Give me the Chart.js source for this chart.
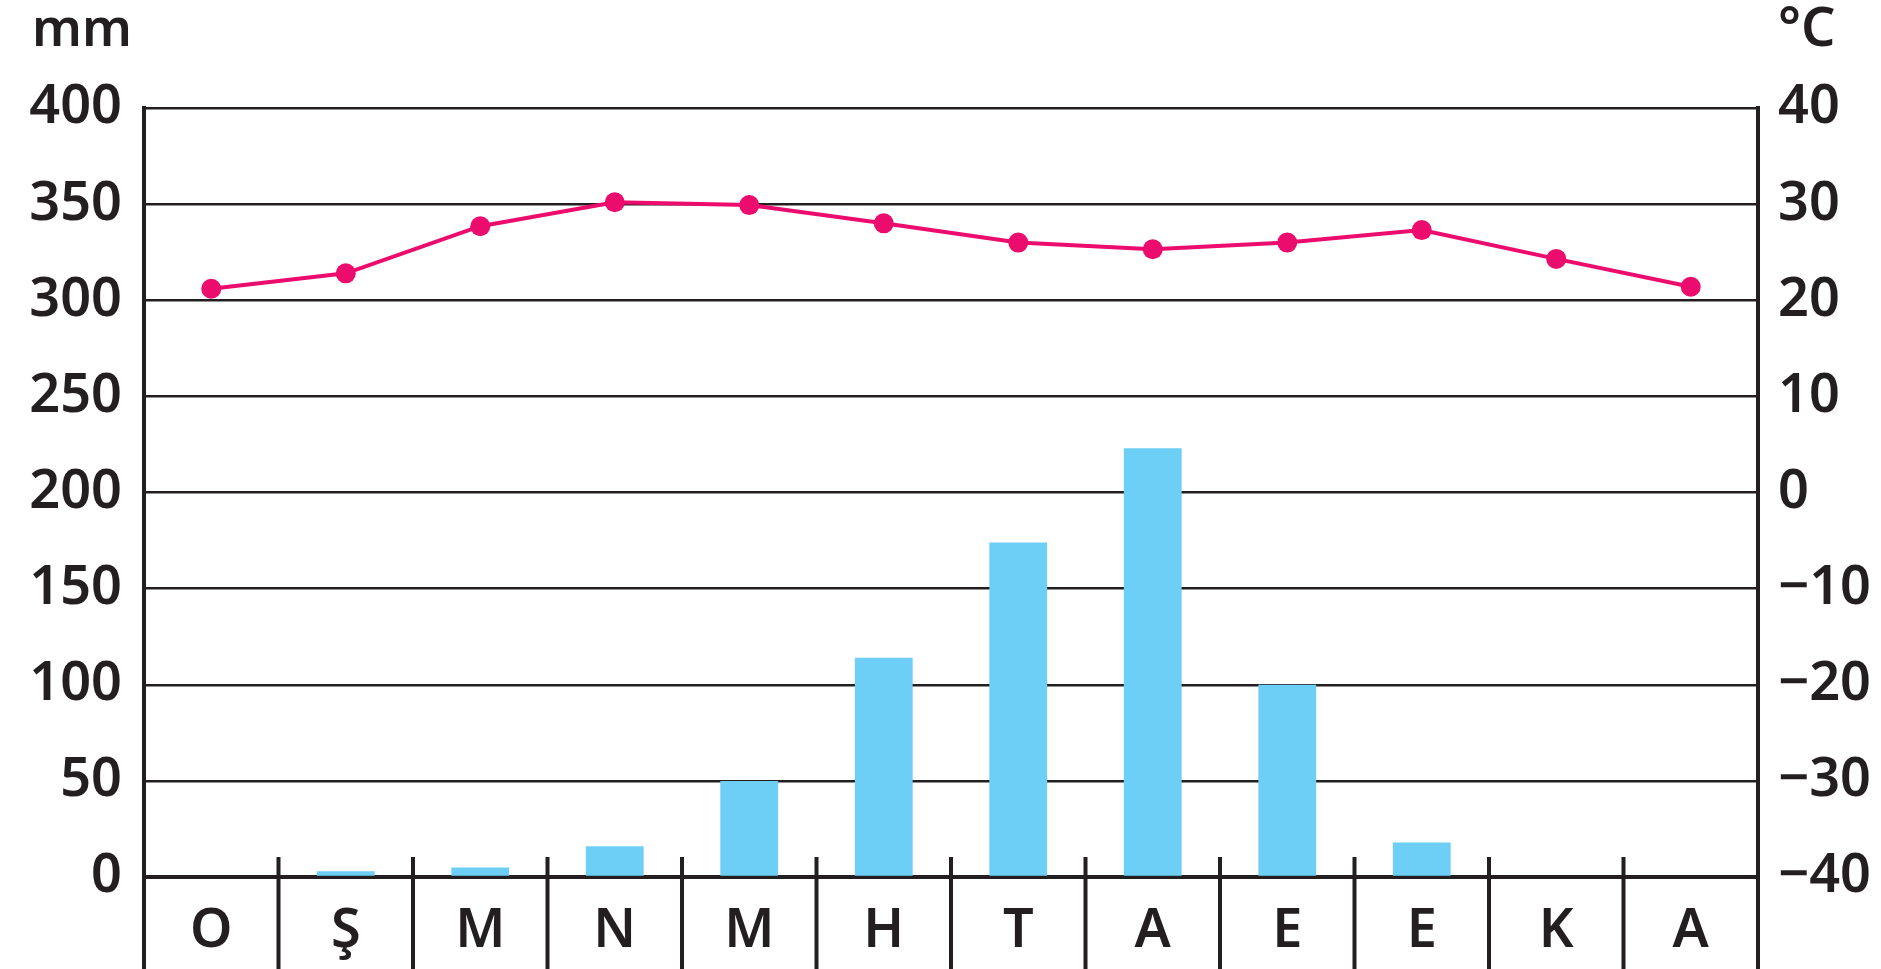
<!DOCTYPE html>
<html>
<head>
<meta charset="utf-8">
<script src="https://cdn.jsdelivr.net/npm/chart.js@4"></script>
<style>
  html, body { margin: 0; padding: 0; background: #ffffff; }
  #wrap { width: 1881px; height: 969px; position: relative; }
</style>
</head>
<body>
<div id="wrap"><canvas id="c" width="1881" height="969"></canvas></div>
<script>
// ---- data ----
const months = ["O", "Ş", "M", "N", "M", "H", "T", "A", "E", "E", "K", "A"];
const precipitation = [0, 3, 5, 16, 50, 114, 174, 223, 100, 18, 0, 0];
const temperature = [21.2, 22.8, 27.7, 30.2, 29.9, 28.0, 26.0, 25.3, 26.0, 27.3, 24.3, 21.4];
const mmTicks = [0, 50, 100, 150, 200, 250, 300, 350, 400];
const tempTicks = [-40, -30, -20, -10, 0, 10, 20, 30, 40];
const leftUnit = "mm";
const rightUnit = "°C";

const INK = "#231f20";
const FONT = "'Noto Sans', 'DejaVu Sans', sans-serif";

const extras = {
  id: "extras",
  afterDraw(chart) {
    const ctx = chart.ctx;
    const a = chart.chartArea;
    const xs = chart.scales.x;
    const H = chart.height;
    ctx.save();
    ctx.strokeStyle = INK;
    ctx.lineWidth = 4;
    ctx.lineCap = "butt";
    // left and right axis lines continue down through the label row
    ctx.beginPath();
    ctx.moveTo(a.left, a.bottom);
    ctx.lineTo(a.left, H);
    ctx.moveTo(a.right, a.bottom);
    ctx.lineTo(a.right, H);
    // separators between months
    for (let i = 0; i < months.length - 1; i++) {
      const x = (xs.getPixelForValue(i) + xs.getPixelForValue(i + 1)) / 2;
      ctx.moveTo(x, a.bottom - 20);
      ctx.lineTo(x, H);
    }
    ctx.stroke();
    // unit labels
    ctx.fillStyle = INK;
    ctx.font = "600 52px " + FONT;
    ctx.textBaseline = "alphabetic";
    ctx.textAlign = "left";
    ctx.fillText(leftUnit, 32, 46);
    ctx.font = "600 54px " + FONT;
    ctx.fillText(rightUnit, 1778, 46);
    ctx.restore();
  }
};

new Chart(document.getElementById("c"), {
  data: {
    labels: months,
    datasets: [
      {
        type: "line",
        label: "°C",
        data: temperature,
        yAxisID: "y1",
        borderColor: "#ec0c6e",
        backgroundColor: "#ec0c6e",
        borderWidth: 4,
        pointRadius: 10,
        pointHoverRadius: 10,
        pointBackgroundColor: "#ec0c6e",
        pointBorderWidth: 0,
        tension: 0,
        order: 0
      },
      {
        type: "bar",
        label: "mm",
        data: precipitation,
        yAxisID: "y",
        backgroundColor: "#6dcff6",
        borderWidth: 0,
        barPercentage: 0.43,
        categoryPercentage: 1.0,
        order: 1
      }
    ]
  },
  options: {
    responsive: false,
    devicePixelRatio: 1,
    animation: false,
    layout: { padding: { top: 108, left: 0, right: 0, bottom: 0 } },
    plugins: {
      legend: { display: false },
      tooltip: { enabled: false }
    },
    scales: {
      x: {
        type: "category",
        offset: true,
        grid: { display: false, drawTicks: false },
        border: { display: true, color: INK, width: 4 },
        ticks: {
          color: INK,
          font: { family: FONT, size: 54, weight: "600" },
          padding: 22,
          maxRotation: 0,
          autoSkip: false
        },
        afterFit(s) { s.height = 92; }
      },
      y: {
        position: "left",
        min: 0,
        max: 400,
        afterBuildTicks(s) { s.ticks = mmTicks.map(v => ({ value: v })); },
        grid: { color: INK, lineWidth: 2.5, drawTicks: false },
        border: { display: true, color: INK, width: 4 },
        ticks: {
          color: INK,
          font: { family: FONT, size: 54, weight: "600" },
          padding: 22
        },
        afterFit(s) { s.width = 144; }
      },
      y1: {
        position: "right",
        min: -40,
        max: 40,
        afterBuildTicks(s) { s.ticks = tempTicks.map(v => ({ value: v })); },
        grid: { drawOnChartArea: false, drawTicks: false },
        border: { display: true, color: INK, width: 4 },
        ticks: {
          color: INK,
          font: { family: FONT, size: 54, weight: "600" },
          padding: 20,
          callback: v => (v < 0 ? "−" + Math.abs(v) : String(v))
        },
        afterFit(s) { s.width = 123; }
      }
    }
  },
  plugins: [extras]
});
</script>
</body>
</html>
